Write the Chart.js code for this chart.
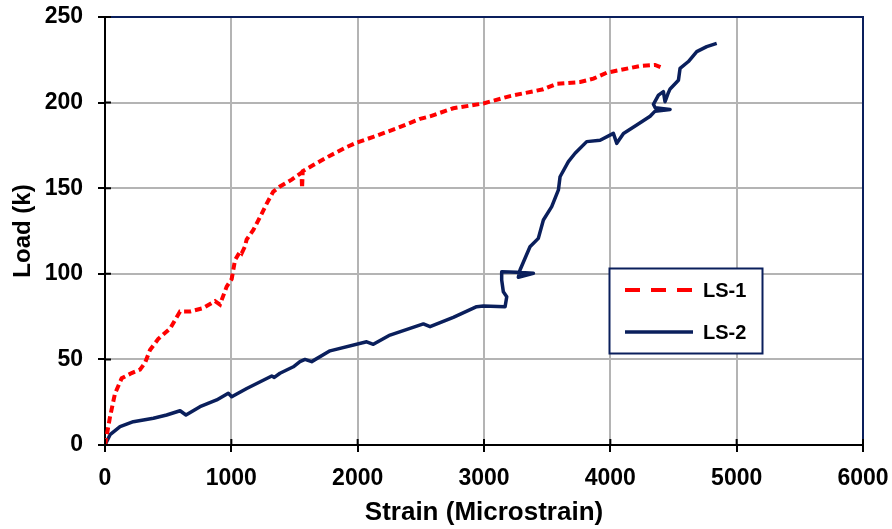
<!DOCTYPE html>
<html>
<head>
<meta charset="utf-8">
<script src="https://cdn.jsdelivr.net/npm/chart.js@4.4.1/dist/chart.umd.min.js"></script>
<style>
html, body { margin: 0; padding: 0; background: #fff; }
#wrap { width: 892px; height: 529px; }
</style>
</head>
<body>
<div id="wrap"><canvas id="loadStrain" width="892" height="529"></canvas></div>
<script>
// Load vs. strain readings for the two specimens
const strainLS1 = [0, 40, 79, 132, 211, 277, 317, 356, 422, 515, 594, 673, 778, 871, 910, 963, 1003, 1029, 1069, 1082, 1108, 1121, 1174, 1240, 1280, 1332, 1385, 1478, 1555, 1560, 1565, 1649, 1781, 1913, 1992, 2124, 2309, 2494, 2573, 2757, 2995, 3206, 3470, 3576, 3761, 3866, 3972, 4077, 4236, 4354, 4420];
const loadLS1 = [0, 16.5, 30, 39, 42, 44, 48, 55.5, 62, 68, 78, 78, 80, 84, 82, 92.5, 97, 108, 113, 112, 116, 120, 125.6, 135, 141, 148, 151, 155, 159, 150, 160, 163.5, 169, 174, 176.6, 180, 185, 190.5, 192, 196.7, 199.5, 203.8, 207.8, 211, 212, 214, 217.5, 219, 221.4, 222, 220];

const strainLS2 = [0, 40, 119, 224, 383, 488, 594, 641, 752, 884, 976, 1003, 1122, 1320, 1340, 1385, 1491, 1543, 1583, 1636, 1781, 2071, 2124, 2256, 2520, 2573, 2757, 2942, 2995, 3167, 3180, 3153, 3140, 3140, 3259, 3391, 3272, 3285, 3364, 3430, 3470, 3536, 3589, 3602, 3668, 3721, 3813, 3919, 4024, 4051, 4104, 4209, 4315, 4354, 4473, 4355, 4341, 4381, 4420, 4433, 4455, 4473, 4539, 4552, 4618, 4684, 4763, 4842];
const loadLS2 = [0, 6, 10.7, 13.6, 15.6, 17.5, 20, 17.5, 22.4, 26.3, 30.2, 28.2, 33, 40.3, 39.5, 41.9, 45.7, 48.7, 50, 48.7, 55, 60.3, 58.8, 64.2, 70.7, 69.1, 74.6, 80.8, 81.2, 80.8, 86.6, 89.5, 96.4, 101.2, 100.9, 100.3, 98, 102.2, 115.8, 120.7, 131.4, 139.2, 149, 156.7, 165.5, 170.4, 177.2, 178, 182, 176.2, 182, 186.9, 192, 195, 196, 197, 199, 204.4, 206.4, 200.5, 205, 208, 213, 220, 224, 229.8, 232.7, 234.6];

const strainTicks = [0, 1000, 2000, 3000, 4000, 5000, 6000];
const loadTicks = [0, 50, 100, 150, 200, 250];

const RED = '#ff0000';
const NAVY = '#0a1f5c';
const FONT = 'Liberation Sans, Arial, sans-serif';

function toPoints(xs, ys) {
    return xs.map((x, i) => ({ x: x, y: ys[i] }));
}

// keep tick labels from pushing the plot area inward
function noLabelPadding(s) {
    s.paddingTop = 0;
    s.paddingBottom = 0;
    s.paddingLeft = 0;
    s.paddingRight = 0;
}

// top/right frame plus the inner half of each tick mark
const framePlugin = {
    id: 'frame',
    afterDraw(chart) {
        const { ctx, chartArea: a, scales } = chart;
        ctx.save();
        ctx.strokeStyle = NAVY;
        ctx.lineWidth = 2;
        ctx.beginPath();
        ctx.moveTo(a.left, a.top);
        ctx.lineTo(a.right, a.top);
        ctx.lineTo(a.right, a.bottom);
        ctx.stroke();

        ctx.strokeStyle = '#000';
        ctx.beginPath();
        scales.x.ticks.forEach(t => {
            const px = scales.x.getPixelForValue(t.value);
            ctx.moveTo(px, a.bottom);
            ctx.lineTo(px, a.bottom - 6);
        });
        scales.y.ticks.forEach(t => {
            const py = scales.y.getPixelForValue(t.value);
            ctx.moveTo(a.left, py);
            ctx.lineTo(a.left + 6, py);
        });
        ctx.stroke();
        ctx.restore();
    }
};

// boxed legend sitting inside the plot
const legendBox = {
    id: 'legendBox',
    afterDatasetsDraw(chart) {
        const ctx = chart.ctx;
        const box = { x: 609.5, y: 268.5, w: 153, h: 85 };
        ctx.save();
        ctx.fillStyle = '#fff';
        ctx.fillRect(box.x, box.y, box.w, box.h);
        ctx.strokeStyle = NAVY;
        ctx.lineWidth = 2;
        ctx.strokeRect(box.x, box.y, box.w, box.h);

        const rows = [290, 332];
        chart.data.datasets.forEach((ds, i) => {
            ctx.strokeStyle = ds.borderColor;
            ctx.lineWidth = ds.borderWidth;
            ctx.setLineDash(ds.borderDash ? [15, 11] : []);
            ctx.beginPath();
            ctx.moveTo(625, rows[i]);
            ctx.lineTo(693, rows[i]);
            ctx.stroke();
            ctx.setLineDash([]);
            ctx.fillStyle = '#000';
            ctx.font = 'bold 20px ' + FONT;
            ctx.textBaseline = 'middle';
            ctx.fillText(ds.label, 703, rows[i] + 1);
        });
        ctx.restore();
    }
};

const tickFont = { family: FONT, size: 23, weight: 'bold' };

const ctx = document.getElementById('loadStrain').getContext('2d');
const loadStrain = new Chart(ctx, {
    type: 'scatter',
    data: {
        datasets: [{
            label: 'LS-1',
            data: toPoints(strainLS1, loadLS1),
            showLine: true,
            borderColor: RED,
            borderWidth: 4,
            borderDash: [7, 4],
            pointRadius: 0,
            tension: 0,
        }, {
            label: 'LS-2',
            data: toPoints(strainLS2, loadLS2),
            showLine: true,
            borderColor: NAVY,
            borderWidth: 3.5,
            borderJoinStyle: 'round',
            pointRadius: 0,
            tension: 0,
        }]
    },
    options: {
        responsive: false,
        animation: false,
        layout: { padding: { left: 0, top: 17, right: 29, bottom: 0 } },
        plugins: {
            legend: { display: false },
            tooltip: { enabled: false }
        },
        scales: {
            x: {
                type: 'linear',
                min: 0,
                max: 6000,
                afterBuildTicks: s => { s.ticks = strainTicks.map(v => ({ value: v })); },
                afterFit: s => { s.height = 84; noLabelPadding(s); },
                ticks: {
                    font: tickFont,
                    color: '#000',
                    padding: 13,
                    maxRotation: 0,
                    callback: v => String(v)
                },
                grid: { color: '#b4b4b4', lineWidth: 2, tickColor: '#000', tickLength: 7 },
                border: { color: '#000', width: 2 },
                title: {
                    display: true,
                    text: 'Strain (Microstrain)',
                    color: '#000',
                    font: { family: FONT, size: 26, weight: 'bold', lineHeight: 1 },
                    padding: { top: 0, bottom: 3 }
                }
            },
            y: {
                type: 'linear',
                min: 0,
                max: 250,
                afterBuildTicks: s => { s.ticks = loadTicks.map(v => ({ value: v })); },
                afterFit: s => { s.width = 105; noLabelPadding(s); },
                ticks: {
                    font: tickFont,
                    color: '#000',
                    padding: 15,
                    callback: v => String(v)
                },
                grid: { color: '#b4b4b4', lineWidth: 2, tickColor: '#000', tickLength: 7 },
                border: { color: '#000', width: 2 },
                title: {
                    display: true,
                    text: 'Load (k)',
                    color: '#000',
                    font: { family: FONT, size: 24, weight: 'bold', lineHeight: 1 },
                    padding: { top: 11, bottom: 0 }
                }
            }
        }
    },
    plugins: [framePlugin, legendBox]
});
</script>
</body>
</html>
